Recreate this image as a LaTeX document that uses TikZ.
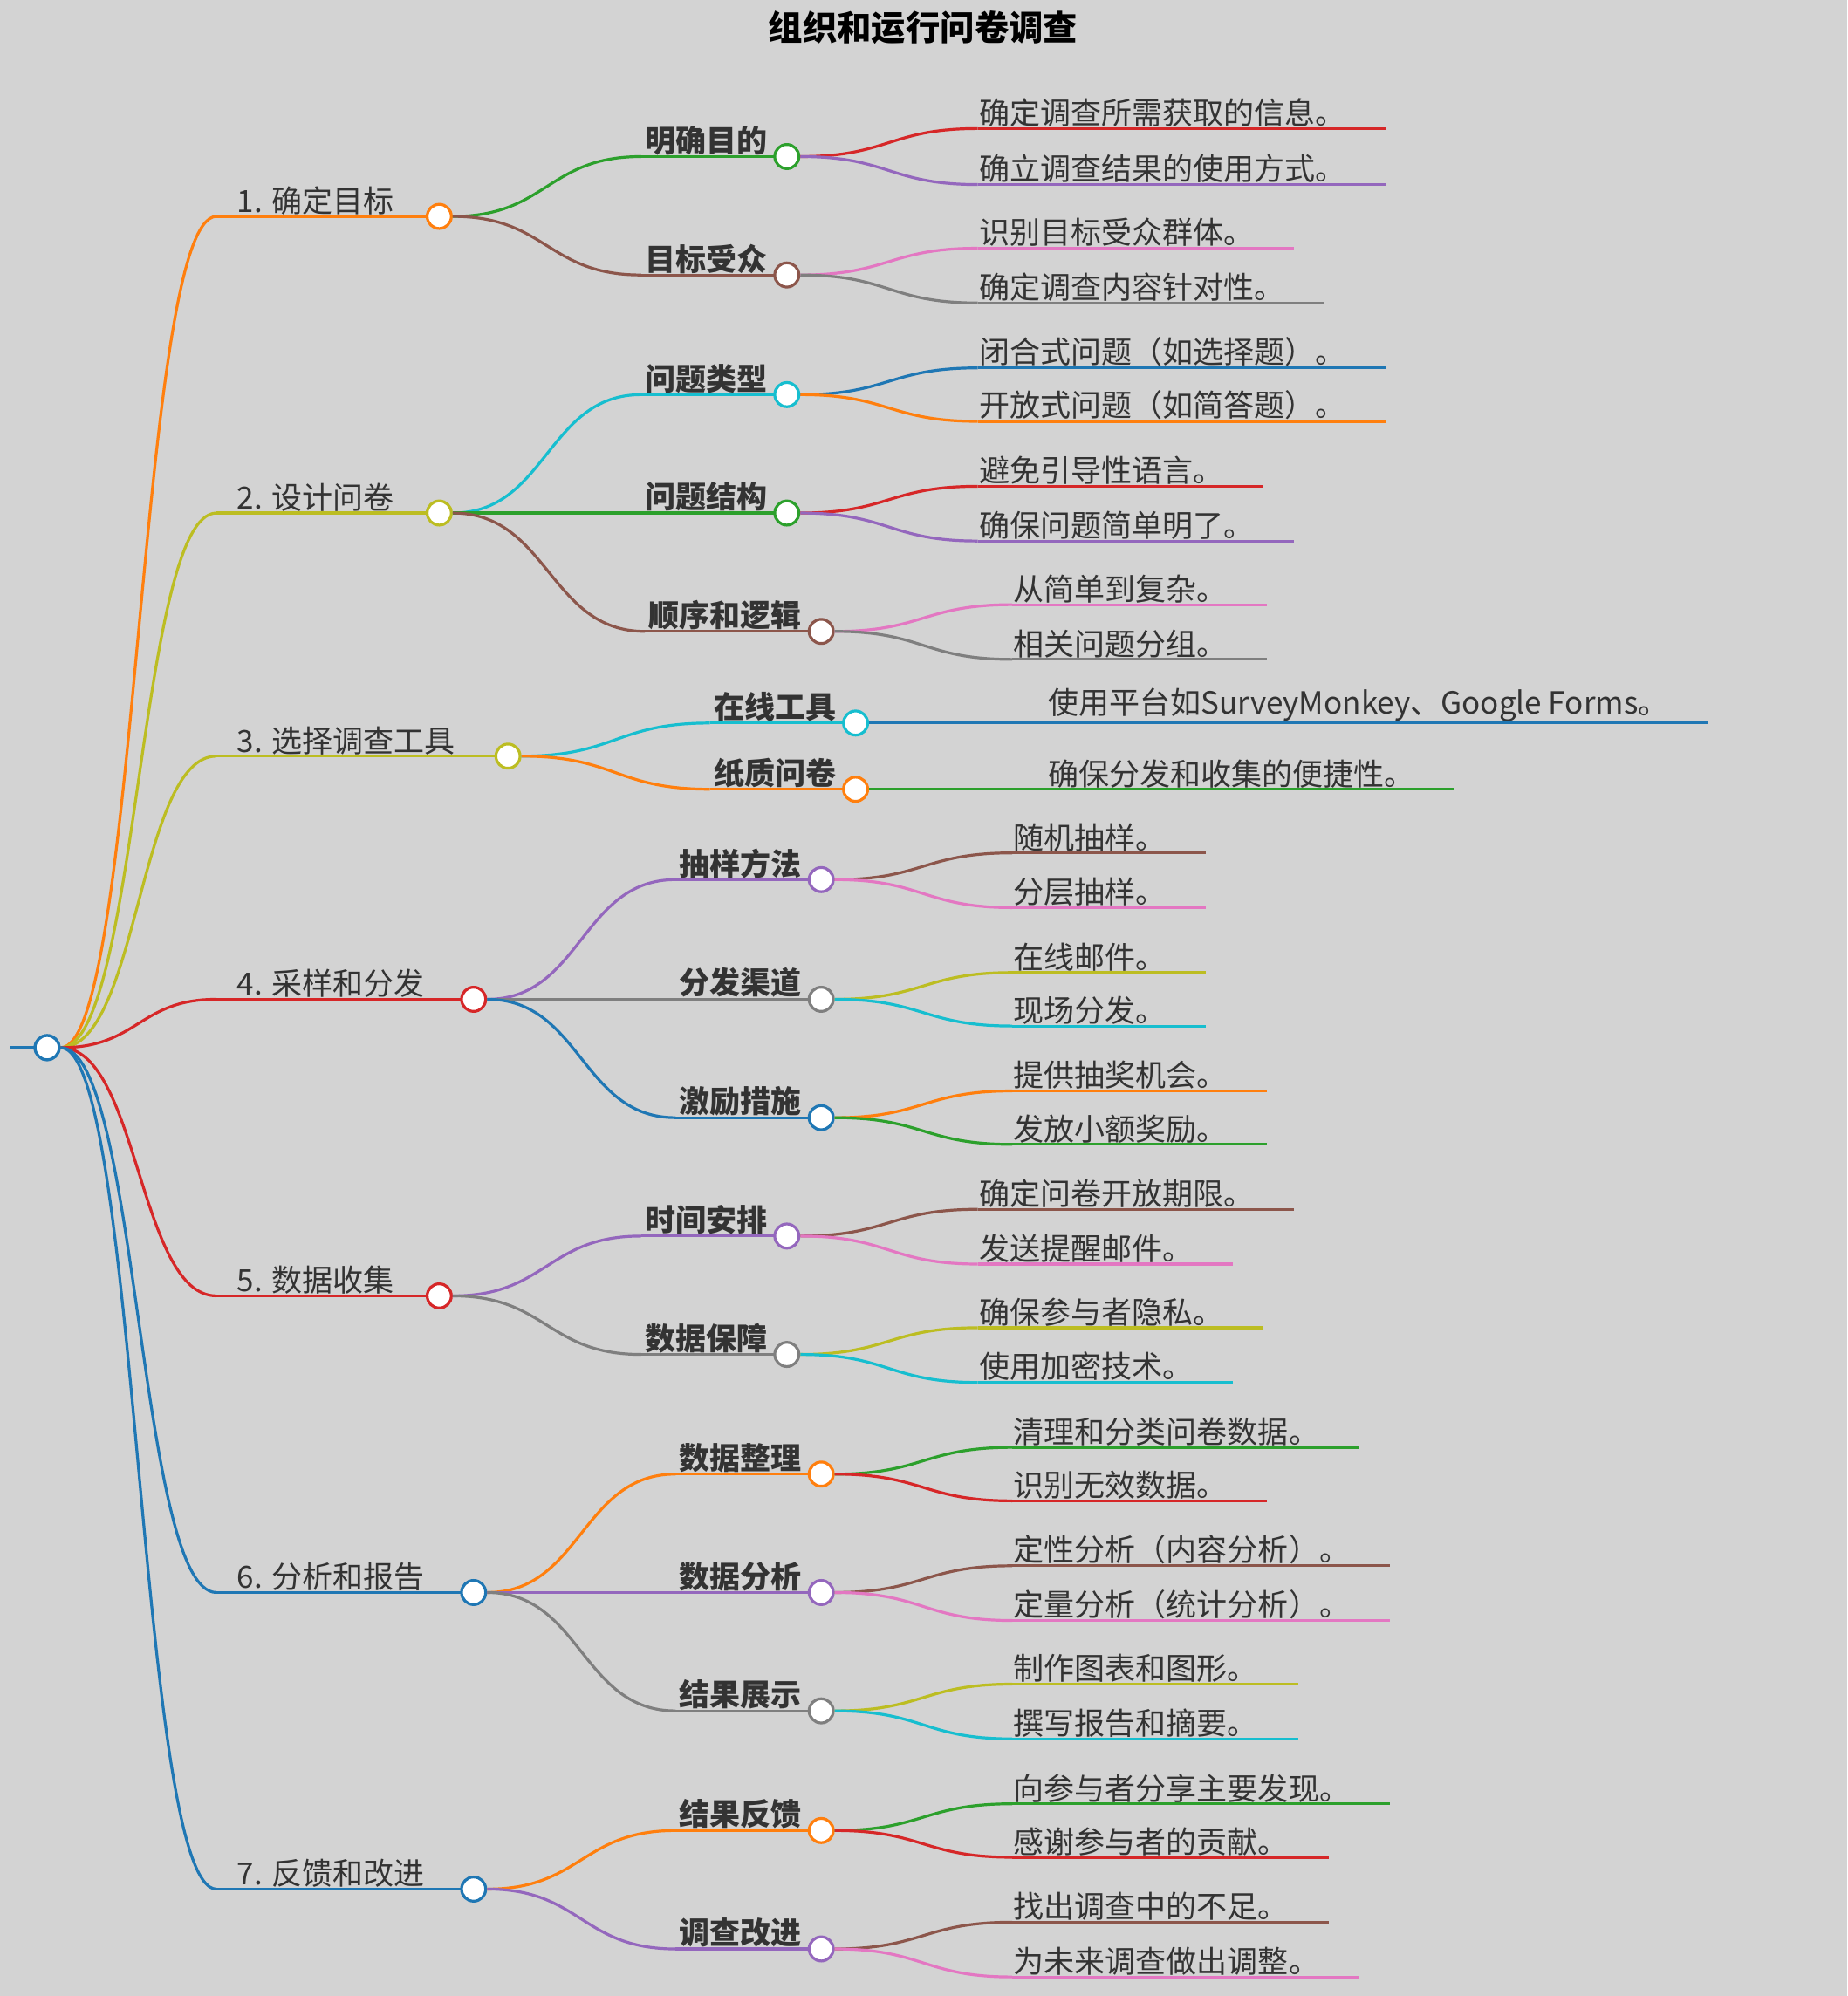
\documentclass[tikz,border=0pt]{standalone}
\usepackage{fontspec}
\setmainfont{Noto Sans CJK SC}
\usetikzlibrary{calc}
\definecolor{cO}{HTML}{FF7F0E}\definecolor{cY}{HTML}{BCBD22}\definecolor{cR}{HTML}{D62728}
\definecolor{cB}{HTML}{1F77B4}\definecolor{cG}{HTML}{2CA02C}\definecolor{cN}{HTML}{8C564B}
\definecolor{cC}{HTML}{17BECF}\definecolor{cP}{HTML}{9467BD}\definecolor{cK}{HTML}{E377C2}
\definecolor{cE}{HTML}{7F7F7F}\definecolor{bg}{HTML}{D3D3D3}
\tikzset{br/.style={line width=2.2pt},dot/.style={circle,draw,fill=white,line width=2.2pt,minimum size=19pt,inner sep=0pt},
 t1/.style={anchor=south west,inner sep=1pt,font=\fontsize{24}{26}\selectfont,text=black!80},
 t2/.style={anchor=south east,inner sep=1pt,font=\fontsize{24}{26}\selectfont\bfseries,text=black!80}}
\newcommand\crv[3]{\path ($(#2)!0.5!(#3)$) coordinate (mm);\draw[br,#1] (#2) .. controls (mm|-#2) and (mm|-#3) .. (#3);}
\newcommand\lone[5]{\coordinate (#2s) at (170,#4);\crv{#1}{root.east}{#2s}\draw[br,#1] (#2s)--(#3-10,#4);
 \node[dot,draw=#1] (#2) at (#3,#4) {};\node[t1] at (185,#4) {#5};}
\newcommand\ltwo[6]{\node[t2] (#3t) at (#4-14,#5) {#6};\coordinate (#3s) at ($(#3t.south west)+(-2,0)$);
 \crv{#1}{#2.east}{#3s}\draw[br,#1] (#3s)--(#4-10,#5);\node[dot,draw=#1] (#3) at (#4,#5) {};}
\newcommand\leaf[5]{\node[t1] (lf) at (#3,#4) {#5};\coordinate (ls) at (#3,#4);\crv{#1}{#2.east}{ls}
 \draw[br,#1] (ls)--($(lf.south east)+(30,0)$);}
\begin{document}
\begin{tikzpicture}[x=1pt,y=-1pt]
\fill[bg] (0,0) rectangle (1451,1568);
\node[font=\fontsize{27}{30}\selectfont\bfseries] (title) at (725,22) {组织和运行问卷调查};
\node[dot,draw=cB] (root) at (37,823) {};
\coordinate (r0) at (8,823);\draw[br,cB] (r0)--(root.west);
\lone{cO}{A}{345}{170}{1. 确定目标}
\lone{cY}{B}{345}{403}{2. 设计问卷}
\lone{cY}{C}{399}{594}{3. 选择调查工具}
\lone{cR}{D}{372}{785}{4. 采样和分发}
\lone{cR}{E}{345}{1018}{5. 数据收集}
\lone{cB}{F}{372}{1251}{6. 分析和报告}
\lone{cB}{G}{372}{1484}{7. 反馈和改进}
\node[dot,draw=cB] at (root) {};
\ltwo{cG}{A}{Aa}{618}{123}{明确目的}
\ltwo{cN}{A}{Ab}{618}{216}{目标受众}
\ltwo{cC}{B}{Ba}{618}{310}{问题类型}
\ltwo{cG}{B}{Bb}{618}{403}{问题结构}
\ltwo{cN}{B}{Bc}{645}{496}{顺序和逻辑}
\ltwo{cC}{C}{Ca}{672}{568}{在线工具}
\ltwo{cO}{C}{Cb}{672}{620}{纸质问卷}
\ltwo{cP}{D}{Da}{645}{691}{抽样方法}
\ltwo{cE}{D}{Db}{645}{785}{分发渠道}
\ltwo{cB}{D}{Dc}{645}{878}{激励措施}
\ltwo{cP}{E}{Ea}{618}{971}{时间安排}
\ltwo{cE}{E}{Eb}{618}{1064}{数据保障}
\ltwo{cO}{F}{Fa}{645}{1158}{数据整理}
\ltwo{cP}{F}{Fb}{645}{1251}{数据分析}
\ltwo{cE}{F}{Fc}{645}{1344}{结果展示}
\ltwo{cO}{G}{Ga}{645}{1438}{结果反馈}
\ltwo{cP}{G}{Gb}{645}{1531}{调查改进}
\leaf{cR}{Aa}{768}{101}{确定调查所需获取的信息。}
\leaf{cP}{Aa}{768}{145}{确立调查结果的使用方式。}
\leaf{cK}{Ab}{768}{195}{识别目标受众群体。}
\leaf{cE}{Ab}{768}{238}{确定调查内容针对性。}
\leaf{cB}{Ba}{768}{289}{闭合式问题（如选择题）。}
\leaf{cO}{Ba}{768}{331}{开放式问题（如简答题）。}
\leaf{cR}{Bb}{768}{382}{避免引导性语言。}
\leaf{cP}{Bb}{768}{425}{确保问题简单明了。}
\leaf{cK}{Bc}{795}{475}{从简单到复杂。}
\leaf{cE}{Bc}{795}{518}{相关问题分组。}
\leaf{cB}{Ca}{822}{568}{使用平台如SurveyMonkey、Google Forms。}
\leaf{cG}{Cb}{822}{620}{确保分发和收集的便捷性。}
\leaf{cN}{Da}{795}{670}{随机抽样。}
\leaf{cK}{Da}{795}{713}{分层抽样。}
\leaf{cY}{Db}{795}{764}{在线邮件。}
\leaf{cC}{Db}{795}{806}{现场分发。}
\leaf{cO}{Dc}{795}{857}{提供抽奖机会。}
\leaf{cG}{Dc}{795}{899}{发放小额奖励。}
\leaf{cN}{Ea}{768}{950}{确定问卷开放期限。}
\leaf{cK}{Ea}{768}{993}{发送提醒邮件。}
\leaf{cY}{Eb}{768}{1043}{确保参与者隐私。}
\leaf{cC}{Eb}{768}{1086}{使用加密技术。}
\leaf{cG}{Fa}{795}{1137}{清理和分类问卷数据。}
\leaf{cR}{Fa}{795}{1179}{识别无效数据。}
\leaf{cN}{Fb}{795}{1230}{定性分析（内容分析）。}
\leaf{cK}{Fb}{795}{1273}{定量分析（统计分析）。}
\leaf{cY}{Fc}{795}{1323}{制作图表和图形。}
\leaf{cC}{Fc}{795}{1366}{撰写报告和摘要。}
\leaf{cG}{Ga}{795}{1417}{向参与者分享主要发现。}
\leaf{cR}{Ga}{795}{1459}{感谢参与者的贡献。}
\leaf{cN}{Gb}{795}{1510}{找出调查中的不足。}
\leaf{cK}{Gb}{795}{1553}{为未来调查做出调整。}
\end{tikzpicture}
\end{document}
